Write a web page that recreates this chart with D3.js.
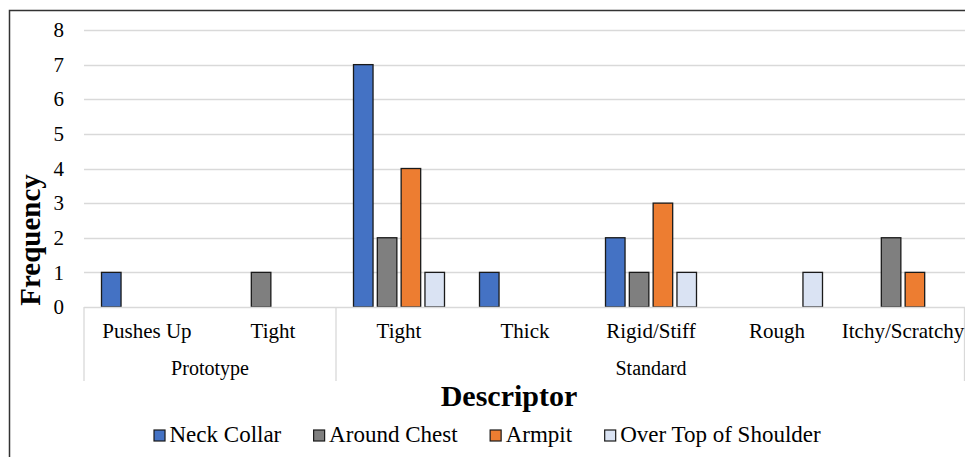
<!DOCTYPE html>
<html>
<head>
<meta charset="utf-8">
<script src="https://cdn.jsdelivr.net/npm/d3@7"></script>
<style>
  body { margin: 0; background: #fff; }
  text { font-family: "Liberation Serif", "Times New Roman", serif; fill: #000; }
</style>
</head>
<body>
<div id="chart"></div>
<script>
'use strict';

// categories (descriptor) with their group
var descriptors = ['Pushes Up', 'Tight', 'Tight', 'Thick', 'Rigid/Stiff', 'Rough', 'Itchy/Scratchy'];
var groups = ['Prototype', 'Prototype', 'Standard', 'Standard', 'Standard', 'Standard', 'Standard'];
var groupNames = ['Prototype', 'Standard'];

// series
var seriesNames = ['Neck Collar', 'Around Chest', 'Armpit', 'Over Top of Shoulder'];
var seriesColors = ['#4472C4', '#7F7F7F', '#ED7D31', '#DAE3F3'];
var neckCollar = [1, 0, 7, 1, 2, 0, 0];
var aroundChest = [0, 1, 2, 0, 1, 0, 2];
var armpit = [0, 0, 4, 0, 3, 0, 1];
var overShoulder = [0, 0, 1, 0, 1, 1, 0];
var yTicks = [0, 1, 2, 3, 4, 5, 6, 7, 8];

var width = 965, height = 457;
var serif = '"Liberation Serif", "Times New Roman", serif';

var svg = d3.select('#chart').append('svg')
    .attr('width', width)
    .attr('height', height);

// outer frame (right and bottom run off the picture)
svg.append('rect')
    .attr('x', 9.5).attr('y', 10.5)
    .attr('width', width + 10).attr('height', height + 10)
    .attr('fill', 'none')
    .attr('stroke', '#333')
    .attr('stroke-width', 1.5);

var idx = d3.range(descriptors.length);
var x = d3.scaleBand()
    .domain(idx)
    .range([84, 966]);

var x1 = d3.scaleBand()
    .domain(d3.range(seriesNames.length))
    .range([17.5, x.bandwidth() - 17.5])
    .paddingInner(0.18);

var y = d3.scaleLinear()
    .domain([0, 8])
    .range([307, 30]);

// gridlines
svg.append('g')
    .selectAll('line')
    .data(yTicks.slice(1))
    .enter().append('line')
    .attr('x1', 84).attr('x2', 966)
    .attr('y1', function (d) { return Math.round(y(d)) + 0.5; })
    .attr('y2', function (d) { return Math.round(y(d)) + 0.5; })
    .attr('stroke', '#D9D9D9')
    .attr('stroke-width', 1.3);

// y axis labels
var yAxis = svg.append('g')
    .attr('transform', 'translate(64,0)')
    .call(d3.axisLeft(y).tickValues(yTicks).tickSize(0).tickPadding(0).tickFormat(d3.format('d')))
    .attr('font-family', serif)
    .attr('font-size', 21);
yAxis.select('.domain').remove();
yAxis.selectAll('text')
    .style('font-family', serif)
    .style('font-size', '21px')
    .attr('fill', '#000');

// bars
var seriesData = [neckCollar, aroundChest, armpit, overShoulder];
var bars = [];
seriesData.forEach(function (vals, s) {
    vals.forEach(function (v, i) {
        if (v > 0) { bars.push({cat: i, s: s, v: v}); }
    });
});

svg.append('g')
    .selectAll('rect')
    .data(bars)
    .enter().append('rect')
    .attr('x', function (d) { return x(d.cat) + x1(d.s); })
    .attr('y', function (d) { return y(d.v); })
    .attr('width', x1.bandwidth())
    .attr('height', function (d) { return y(0) - y(d.v); })
    .attr('fill', function (d) { return seriesColors[d.s]; })
    .attr('stroke', '#1a1a1a')
    .attr('stroke-width', 1.3);

// category axis: baseline and group separators
var axisG = svg.append('g');
axisG.append('line')
    .attr('x1', 84).attr('x2', 966)
    .attr('y1', 307.5).attr('y2', 307.5)
    .attr('stroke', '#D9D9D9').attr('stroke-width', 1.3);

var groupEdges = [0];
groups.forEach(function (g, i) {
    if (i > 0 && g !== groups[i - 1]) { groupEdges.push(i); }
});
groupEdges.push(groups.length);

axisG.selectAll('line.sep')
    .data(groupEdges)
    .enter().append('line')
    .attr('class', 'sep')
    .attr('x1', function (d) { return d < groups.length ? x(d) : x.range()[1] - 1.5; })
    .attr('x2', function (d) { return d < groups.length ? x(d) : x.range()[1] - 1.5; })
    .attr('y1', 307).attr('y2', 381)
    .attr('stroke', '#D9D9D9').attr('stroke-width', 1.3);

// descriptor labels
axisG.selectAll('text.cat')
    .data(idx)
    .enter().append('text')
    .attr('class', 'cat')
    .attr('x', function (d) { return x(d) + x.bandwidth() / 2; })
    .attr('y', 338)
    .attr('text-anchor', 'middle')
    .style('font-size', '21px')
    .text(function (d) { return descriptors[d]; });

// group labels
axisG.selectAll('text.grp')
    .data(groupNames)
    .enter().append('text')
    .attr('class', 'grp')
    .attr('x', function (g) {
        var members = idx.filter(function (i) { return groups[i] === g; });
        var a = x(members[0]);
        var b = x(members[members.length - 1]) + x.bandwidth();
        return (a + b) / 2;
    })
    .attr('y', 375)
    .attr('text-anchor', 'middle')
    .style('font-size', '20px')
    .text(function (g) { return g; });

// axis titles
svg.append('text')
    .attr('transform', 'translate(40,240) rotate(-90)')
    .attr('text-anchor', 'middle')
    .style('font-size', '29px')
    .style('font-weight', 'bold')
    .text('Frequency');

svg.append('text')
    .attr('x', 509)
    .attr('y', 406)
    .attr('text-anchor', 'middle')
    .style('font-size', '30px')
    .style('font-weight', 'bold')
    .text('Descriptor');

// legend
var legend = svg.append('g');
var items = legend.selectAll('g')
    .data(seriesNames)
    .enter().append('g');
items.append('rect')
    .attr('width', 11).attr('height', 11)
    .attr('y', -12)
    .attr('fill', function (d, i) { return seriesColors[i]; })
    .attr('stroke', '#1a1a1a')
    .attr('stroke-width', 1.2);
items.append('text')
    .attr('x', 15.5)
    .style('font-size', '23px')
    .text(function (d) { return d; });

var gap = 32;
var widths = [];
items.each(function () { widths.push(this.getBBox().width); });
var total = d3.sum(widths) + gap * (widths.length - 1);
var cx = 487.5 - total / 2;
items.attr('transform', function (d, i) {
    var t = 'translate(' + cx + ',442)';
    cx += widths[i] + gap;
    return t;
});
</script>
</body>
</html>
